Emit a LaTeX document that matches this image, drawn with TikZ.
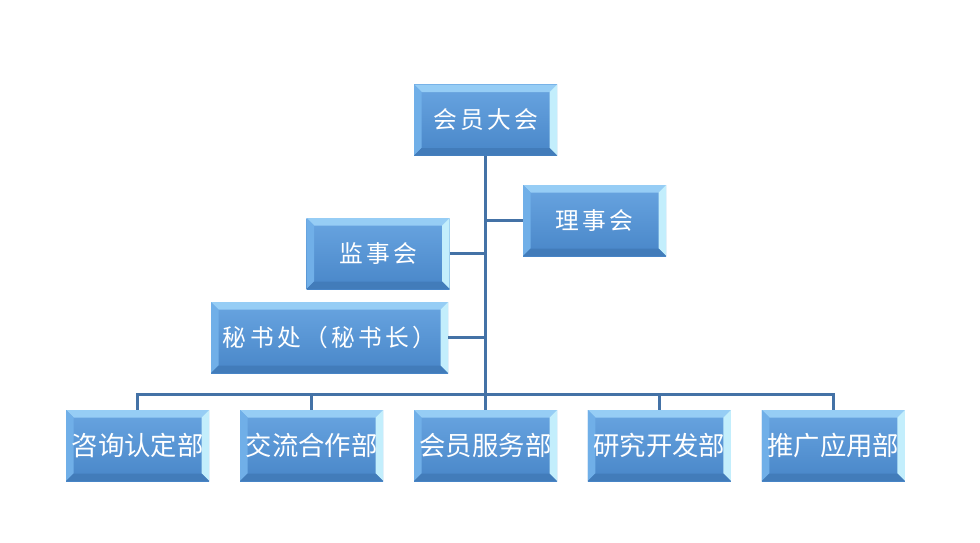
\documentclass[tikz,border=0pt]{standalone}
\usepackage{fontspec}
\usetikzlibrary{positioning}
\newfontfamily\cjk{Noto Sans CJK SC}
\newfontfamily\cjkwide{Noto Sans CJK SC}[LetterSpace=14]
\definecolor{orgline}{RGB}{68,114,166}
\definecolor{orgface}{RGB}{88,150,214}
\definecolor{orgfacetop}{RGB}{105,165,225}
\definecolor{orgfacebot}{RGB}{72,134,200}
\definecolor{orgtop}{RGB}{150,205,245}
\definecolor{orgleft}{RGB}{112,175,232}
\definecolor{orgright}{RGB}{195,238,252}
\definecolor{orgbot}{RGB}{66,124,186}

\begin{document}
\begin{tikzpicture}[
    line cap=butt, line join=miter,
    link/.style={orgline, line width=1.5pt},
    orgbox/.style={rectangle, inner sep=0pt, minimum width=2.86cm, minimum height=1.42cm,
                   text=white, top color=orgfacetop, bottom color=orgfacebot,
                   path picture={
                     \coordinate (nw) at (path picture bounding box.north west);
                     \coordinate (ne) at (path picture bounding box.north east);
                     \coordinate (sw) at (path picture bounding box.south west);
                     \coordinate (se) at (path picture bounding box.south east);
                     \coordinate (inw) at ([shift={(0.15,-0.15)}]nw);
                     \coordinate (ine) at ([shift={(-0.15,-0.15)}]ne);
                     \coordinate (isw) at ([shift={(0.15,0.15)}]sw);
                     \coordinate (ise) at ([shift={(-0.15,0.15)}]se);
                     \fill[orgtop]   (nw) -- (ne) -- (ine) -- (inw) -- cycle;
                     \fill[orgleft]  (nw) -- (inw) -- (isw) -- (sw) -- cycle;
                     \fill[orgright] (ne) -- (se) -- (ise) -- (ine) -- cycle;
                     \fill[orgbot]   (sw) -- (isw) -- (ise) -- (se) -- cycle;
                   }},
    upper/.style={orgbox, font=\cjkwide\fontsize{13.5pt}{15pt}\selectfont},
    lower/.style={orgbox, font=\cjk\fontsize{15pt}{17pt}\selectfont},
  ]
  \useasboundingbox (0,0) rectangle (19.6,10.84);

  % ---- upper boxes ----
  \node[upper] (hydh) at (9.71,8.44) {会员大会};
  \node[upper] (lsh)  at (11.89,6.43) {理事会};
  \node[upper] (jsh)  at (7.56,5.77) {监事会};
  \node[upper, minimum width=4.74cm] (msc) at (6.59,4.09) {秘书处（秘书长）};

  % ---- departments ----
  \node[lower] (hyfw) at (9.71,1.93) {会员服务部};
  \node[lower, left=0.605cm of hyfw]  (jlhz) {交流合作部};
  \node[lower, left=0.605cm of jlhz]  (zxrd) {咨询认定部};
  \node[lower, right=0.605cm of hyfw] (yjkf) {研究开发部};
  \node[lower, right=0.605cm of yjkf] (tgyy) {推广应用部};

  % ---- connectors ----
  \coordinate (bus) at ([yshift=0.3cm]zxrd.north);
  \draw[link] (hydh.south) -- (hyfw.north);
  \draw[link] (lsh.west) -- (lsh.west -| hydh.south);
  \draw[link] (jsh.east) -- (jsh.east -| hydh.south);
  \draw[link] (msc.east) -- (msc.east -| hydh.south);
  \draw[link] (zxrd.north) -- (bus) -- (bus -| tgyy.north) -- (tgyy.north);
  \draw[link] (jlhz.north) -- (jlhz.north |- bus);
  \draw[link] (yjkf.north) -- (yjkf.north |- bus);

\end{tikzpicture}
\end{document}
